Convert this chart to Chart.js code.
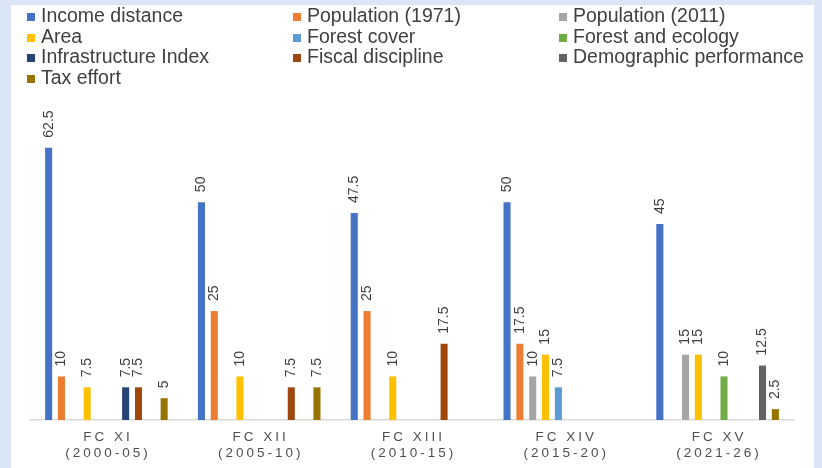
<!DOCTYPE html>
<html>
<head>
<meta charset="utf-8">
<script src="https://cdn.jsdelivr.net/npm/chart.js@4/dist/chart.umd.min.js"></script>
<style>
  html, body { margin: 0; padding: 0; }
  body { width: 822px; height: 468px; background: #dae6f5; position: relative; overflow: hidden; font-family: "Liberation Sans", Arial, sans-serif; }
  #panel { position: absolute; left: 11px; top: 5px; width: 803px; height: 463px; background: #fff; }
  #chart { position: absolute; left: 0; top: 0; }
  #legend { position: absolute; left: 16px; top: 0; width: 790px; }
  .item { position: absolute; font-size: 19.5px; color: #404040; white-space: nowrap; line-height: 20px; }
  .item span.box { display: inline-block; width: 8px; height: 8px; margin-right: 6px; vertical-align: 1px; }
</style>
</head>
<body>
<div id="panel">
  <canvas id="chart" width="803" height="463"></canvas>
  <div id="legend"></div>
</div>
<script>
let categories = [["FC XI", "(2000-05)"], ["FC XII", "(2005-10)"], ["FC XIII", "(2010-15)"], ["FC XIV", "(2015-20)"], ["FC XV", "(2021-26)"]];

let seriesNames = ["Income distance", "Population (1971)", "Population (2011)", "Area", "Forest cover",
  "Forest and ecology", "Infrastructure Index", "Fiscal discipline", "Demographic performance", "Tax effort"];
let colors = ["#4472C4", "#ED7D31", "#A5A5A5", "#FFC000", "#5B9BD5", "#70AD47", "#264478", "#9E480E", "#636363", "#997300"];

// null = criterion not used in that commission
let incomeDistance = [62.5, 50, 47.5, 50, 45];
let population1971 = [10, 25, 25, 17.5, null];
let population2011 = [null, null, null, 10, 15];
let area = [7.5, 10, 10, 15, 15];
let forestCover = [null, null, null, 7.5, null];
let forestEcology = [null, null, null, null, 10];
let infrastructure = [7.5, null, null, null, null];
let fiscalDiscipline = [7.5, 7.5, 17.5, null, null];
let demographic = [null, null, null, null, 12.5];
let taxEffort = [5, 7.5, null, null, 2.5];

let allSeries = [incomeDistance, population1971, population2011, area, forestCover,
  forestEcology, infrastructure, fiscalDiscipline, demographic, taxEffort];

// legend, 3 columns
let legend = document.querySelector("#legend");
let html = "";
for (let i = 0; i < seriesNames.length; i++) {
  let col = i % 3, row = Math.floor(i / 3);
  html += `<div class="item" style="left:${col * 266}px;top:${row * 20.7}px"><span class="box" style="background:${colors[i]}"></span>${seriesNames[i]}</div>`;
}
legend.innerHTML = html;

const valueLabels = {
  id: "valueLabels",
  afterDatasetsDraw(chart) {
    const ctx = chart.ctx;
    ctx.save();
    ctx.font = "14px 'Liberation Sans', Arial, sans-serif";
    ctx.fillStyle = "#404040";
    ctx.textAlign = "left";
    ctx.textBaseline = "middle";
    chart.data.datasets.forEach((ds, i) => {
      chart.getDatasetMeta(i).data.forEach((bar, j) => {
        let v = ds.data[j];
        if (v == null) return;
        ctx.save();
        ctx.translate(bar.x, bar.y - 10);
        ctx.rotate(-Math.PI / 2);
        ctx.fillText(String(v), 0, 0);
        ctx.restore();
      });
    });
    ctx.restore();
  }
};

const catLabels = {
  id: "catLabels",
  afterDraw(chart) {
    const ctx = chart.ctx;
    const x = chart.scales.x;
    ctx.save();
    ctx.font = "13.5px 'Liberation Sans', Arial, sans-serif";
    ctx.fillStyle = "#505050";
    ctx.textAlign = "center";
    ctx.textBaseline = "middle";
    ctx.letterSpacing = "3px";
    categories.forEach((c, i) => {
      let px = x.getPixelForValue(i) + 1.5;
      ctx.fillText(c[0], px, 432);
      ctx.fillText(c[1], px, 448);
    });
    ctx.restore();
  }
};

new Chart(document.getElementById("chart"), {
  type: "bar",
  data: {
    labels: categories.map(c => c.join(" ")),
    datasets: allSeries.map((d, i) => ({
      label: seriesNames[i],
      data: d,
      backgroundColor: colors[i],
      barPercentage: 0.55,
      categoryPercentage: 0.84
    }))
  },
  options: {
    responsive: false,
    animation: false,
    layout: { padding: { top: 110, left: 19, right: 20, bottom: 40 } },
    plugins: { legend: { display: false }, tooltip: { enabled: false } },
    scales: {
      x: {
        grid: { display: false },
        ticks: { display: false },
        border: { color: "#d9d9d9", width: 1.5 }
      },
      y: { display: false, min: 0, max: 70 }
    }
  },
  plugins: [valueLabels, catLabels]
});
</script>
</body>
</html>
